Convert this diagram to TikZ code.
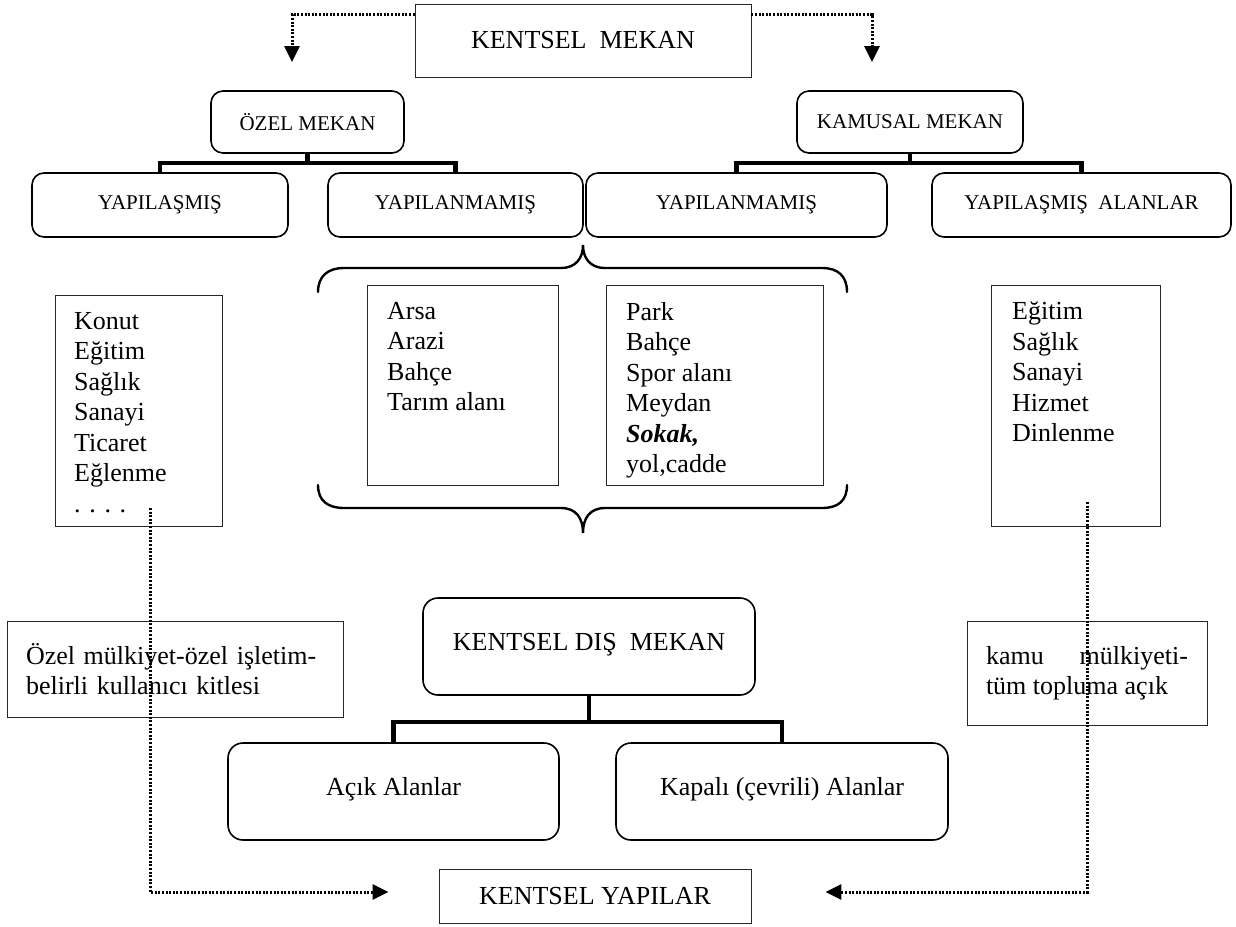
\documentclass[tikz,border=0pt]{standalone}
\usepackage{fontspec}
\setmainfont{Liberation Serif}
\usetikzlibrary{arrows.meta}

\begin{document}
\begin{tikzpicture}[x=1pt, y=-1pt,
    plainbox/.style={draw=black!85, line width=0.9pt, rectangle, inner sep=0pt},
    roundbox/.style={draw=black, line width=1.6pt, rectangle, rounded corners=12pt, inner sep=0pt},
    bigfont/.style={font=\fontsize{26}{30.5}\selectfont},
    smallfont/.style={font=\fontsize{21}{25}\selectfont},
    listtext/.style={bigfont, align=left, anchor=north west, inner sep=0pt},
    tree/.style={line width=4.5pt},
    dotarrow/.style={line width=3pt, dash pattern=on 2pt off 1.6pt, -{Triangle[width=15pt,length=16pt]}},
    brace/.style={line width=2.4pt, line cap=round}]
    \useasboundingbox (0,0) rectangle (1236,926);

    \node [plainbox, bigfont, minimum width=336pt, minimum height=73pt] (kmekan) at (583,40.5) {KENTSEL\ \ MEKAN};
    \coordinate (ltip) at (292,62);
    \coordinate (rtip) at (872,62);
    \draw [dotarrow] ([yshift=-11pt]kmekan.north west) -| (ltip);
    \draw [dotarrow] ([yshift=-11pt]kmekan.north east) -| (rtip);

    \node [roundbox, smallfont, minimum width=193pt, minimum height=62pt] (ozel) at (307.5,122) {ÖZEL MEKAN};
    \node [roundbox, smallfont, minimum width=226pt, minimum height=62pt] (kamusal) at (910,122) {KAMUSAL MEKAN};

    \node [roundbox, smallfont, minimum width=256pt, minimum height=64pt] (yap1) at (160,205) {YAPILAŞMIŞ};
    \node [roundbox, smallfont, minimum width=255pt, minimum height=64pt] (yapn1) at (455.5,205) {YAPILANMAMIŞ};
    \node [roundbox, smallfont, minimum width=301pt, minimum height=64pt] (yapn2) at (736.5,205) {YAPILANMAMIŞ};
    \node [roundbox, smallfont, minimum width=299pt, minimum height=64pt] (yap2) at (1081.5,205) {YAPILAŞMIŞ\ \ ALANLAR};

    \draw [tree] (ozel.south) -- ++(0,9) coordinate (ozj);
    \draw [tree] (yap1.north) |- (ozj) -| (yapn1.north);
    \draw [tree] (kamusal.south) -- ++(0,9) coordinate (kmj);
    \draw [tree] (yapn2.north) |- (kmj) -| (yap2.north);

    \draw [brace] (318,292) .. controls (318,276) and (328,268) .. (344,268) -- (561,268)
        .. controls (576,268) and (583,258) .. (583,245)
        .. controls (583,258) and (590,268) .. (605,268) -- (822,268)
        .. controls (838,268) and (847,276) .. (847,292);
    \draw [brace] (318,485) .. controls (318,501) and (328,508) .. (344,508) -- (561,508)
        .. controls (576,508) and (583,518) .. (583,533)
        .. controls (583,518) and (590,508) .. (605,508) -- (822,508)
        .. controls (838,508) and (847,501) .. (847,485);

    \node [plainbox, minimum width=167pt, minimum height=231pt, anchor=north west] (konutbox) at (55,295) {};
    \node [listtext] (konut) at (74,312) {Konut\\Eğitim\\Sağlık\\Sanayi\\Ticaret\\Eğlenme\\. . . .};

    \node [plainbox, minimum width=191pt, minimum height=200pt, anchor=north west] (arsabox) at (367,285) {};
    \node [listtext] (arsa) at (387,302) {Arsa\\Arazi\\Bahçe\\Tarım alanı};

    \node [plainbox, minimum width=217pt, minimum height=200pt, anchor=north west] (parkbox) at (606,285) {};
    \node [listtext] (park) at (626,302) {Park\\Bahçe\\Spor alanı\\Meydan\\\textbf{\textit{Sokak,}}\\yol,cadde};

    \node [plainbox, minimum width=169pt, minimum height=241pt, anchor=north west] (egitimbox) at (991,285) {};
    \node [listtext] (egitim) at (1012,302) {Eğitim\\Sağlık\\Sanayi\\Hizmet\\Dinlenme};

    \node [plainbox, bigfont, inner xsep=19pt, text width=298pt, align=left, minimum height=96pt] (ozelnote) at (175,669) {Özel mülkiyet-özel işletim-\\belirli kullanıcı kitlesi};
    \node [plainbox, bigfont, inner xsep=19pt, text width=202pt, align=justify, minimum height=104pt] (kamunote) at (1087,673) {kamu mülkiyeti-\linebreak tüm topluma açık};

    \node [roundbox, rounded corners=15pt, bigfont, minimum width=332pt, minimum height=97pt] (dis) at (589,646.5) {\raisebox{10pt}{KENTSEL DIŞ\ \ MEKAN}};
    \node [roundbox, rounded corners=15pt, bigfont, minimum width=331pt, minimum height=97pt] (acik) at (393.5,791.5) {\raisebox{11pt}{Açık Alanlar}};
    \node [roundbox, rounded corners=15pt, bigfont, minimum width=332pt, minimum height=97pt] (kapali) at (782,791.5) {\raisebox{11pt}{Kapalı (çevrili) Alanlar}};
    \draw [tree] (dis.south) -- ++(0,26) coordinate (disj);
    \draw [tree] (acik.north) |- (disj) -| (kapali.north);

    \node [plainbox, bigfont, minimum width=312pt, minimum height=54pt] (kyap) at (595,896) {\raisebox{-7pt}{KENTSEL YAPILAR}};

    \coordinate (konutdot) at (150,508);
    \coordinate (egitimdot) at (1087,502);
    \draw [dotarrow] (konutdot) |- ([xshift=-50pt,yshift=4pt]kyap.west);
    \draw [dotarrow] (egitimdot) |- ([xshift=74pt,yshift=4pt]kyap.east);
\end{tikzpicture}
\end{document}
